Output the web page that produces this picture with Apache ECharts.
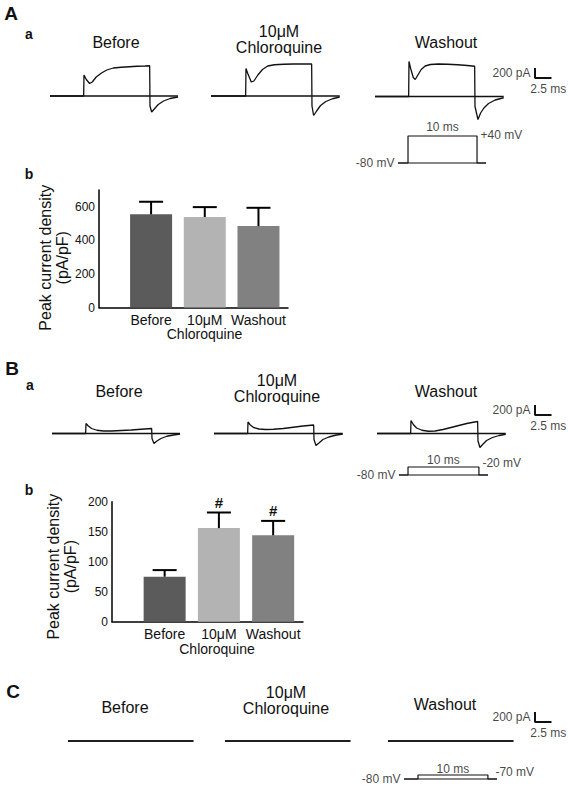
<!DOCTYPE html>
<html><head><meta charset="utf-8">
<script src="https://cdn.jsdelivr.net/npm/echarts@6/dist/echarts.min.js"></script>
<style>html,body{margin:0;padding:0;background:#fff}#c{width:568px;height:788px}</style>
</head><body><div id="c"></div>
<script>
// ---------- DATA ----------
const traceTitles = ['Before', '10μM', 'Chloroquine', 'Washout'];
const barLabels = ['Before', '10μM', 'Washout'];
const barAxisName = 'Chloroquine';
const panelLetters = ['A', 'B', 'C'];
const subLetters = ['a', 'b'];

// Current traces: [time (ms), current (pA)]
const traceA_before = [[0,0],[5.1,0],[5.15,420],[5.5,330],[6.0,250],[6.4,280],[7.0,380],[7.8,460],[8.6,520],[9.6,560],[10.8,575],[12.0,585],[13.2,595],[14.4,600],[15.1,605],[15.15,-200],[15.4,-320],[15.8,-260],[16.4,-170],[17.2,-100],[18.2,-50],[19.4,-20]];
const traceA_drug = [[0,0],[5.25,0],[5.3,550],[5.6,440],[6.1,280],[6.5,300],[7.1,420],[7.8,530],[8.6,600],[9.6,625],[11,635],[12.5,640],[14,640],[15.25,640],[15.3,-200],[15.55,-390],[16,-300],[16.6,-190],[17.4,-110],[18.4,-55],[19.5,-20]];
const traceA_wash = [[0,0],[5.1,0],[5.15,700],[5.4,560],[5.8,380],[6.1,340],[6.5,430],[7.0,540],[7.6,610],[8.4,640],[9.6,650],[11,645],[12.5,635],[14,620],[15.1,605],[15.15,-200],[15.6,-460],[16.0,-330],[16.5,-230],[17.2,-140],[18.2,-70],[19.5,-25]];
const traceB_before = [[0,0],[5.1,0],[5.15,200],[5.5,150],[6.0,100],[6.8,65],[7.8,50],[9,50],[10.5,60],[12,70],[13.5,85],[15.1,100],[15.15,-100],[15.45,-200],[15.9,-150],[16.5,-100],[17.4,-55],[18.4,-30],[19.4,-10]];
const traceB_drug = [[0,0],[5.1,0],[5.15,230],[5.5,170],[6.0,120],[6.8,90],[7.8,80],[9,85],[10.5,100],[12,125],[13.5,150],[15.1,170],[15.15,-120],[15.45,-240],[15.9,-190],[16.5,-120],[17.4,-70],[18.4,-35],[19.5,-10]];
const traceB_wash = [[0,0],[5.1,0],[5.15,260],[5.5,180],[6.0,110],[6.8,65],[7.8,45],[8.8,50],[10,80],[11.2,120],[12.4,160],[13.6,200],[14.6,225],[15.25,240],[15.3,-150],[15.6,-280],[16.0,-220],[16.6,-140],[17.5,-80],[18.5,-40],[19.5,-15]];
const traceC_before = [[0,0],[19,0]];
const traceC_drug = [[0,0],[19,0]];
const traceC_wash = [[0,0],[19,0]];
const zeroCurrent = 0; // pA, drawn across every trace

// Voltage protocols: [time (ms), voltage (mV)]
const protocolA = [[0,-80],[1.45,-80],[1.45,40],[11.45,40],[11.45,-80],[12.75,-80]];
const protocolB = [[0,-80],[1.27,-80],[1.27,-20],[11.27,-20],[11.27,-80],[12.55,-80]];
const protocolC = [[0,-80],[2.0,-80],[2.0,-70],[12.0,-70],[12.0,-80],[13.3,-80]];
const holdingPotential = -80; // mV
const protocolA_labels = ['-80 mV', '+40 mV', '10 ms'];
const protocolB_labels = ['-80 mV', '-20 mV', '10 ms'];
const protocolC_labels = ['-80 mV', '-70 mV', '10 ms'];

// Scale bar: 200 pA / 2.5 ms
const scaleBar = [[0,200],[0,0],[2.5,0]];
const scaleBarLabels = ['200 pA', '2.5 ms'];

// Peak current density (pA/pF): mean and SEM
const densityA_mean = [555, 539, 485];
const densityA_sem = [75, 59, 109];
const densityA_ticks = [0, 200, 400, 600];
const densityB_mean = [75, 156, 144];
const densityB_sem = [11, 26, 24];
const densityB_ticks = [0, 50, 100, 150, 200];
const significanceB = ['', '#', '#'];
const densityName = 'Peak current density\n(pA/pF)';

// ---------- STYLE ----------
const FONT = '"Liberation Sans", Arial, Helvetica, sans-serif';
const INK = '#111';
const barColors = ['#5b5b5b', '#b3b3b3', '#818181'];

const grids = [], xAxes = [], yAxes = [], series = [], graphics = [];
function addGrid(g, x, y) {
  grids.push(g);
  const i = grids.length - 1;
  xAxes.push(Object.assign({gridIndex: i}, x));
  yAxes.push(Object.assign({gridIndex: i}, y));
  return i;
}
const hid = (min, max) => ({type: 'value', min, max, show: false});

// ---- current traces ----
const PXMS = 6.6, PXPA = 0.05;
function addTrace(data, left, baseline, tmax) {
  const i = addGrid({left, top: baseline - 800 * PXPA, width: tmax * PXMS, height: 1400 * PXPA},
    hid(0, tmax), hid(-600, 800));
  const tEnd = data[data.length - 1][0];
  series.push({type: 'line', xAxisIndex: i, yAxisIndex: i, data: [[0, zeroCurrent], [tEnd, zeroCurrent]],
    symbol: 'none', clip: false, lineStyle: {color: INK, width: 1.3}, silent: true});
  series.push({type: 'line', xAxisIndex: i, yAxisIndex: i, data, symbol: 'none', clip: false,
    lineStyle: {color: INK, width: 1.3}, silent: true});
}
addTrace(traceA_before, 50, 96, 19.5);
addTrace(traceA_drug, 211, 96, 19.5);
addTrace(traceA_wash, 375, 96.5, 19.5);
addTrace(traceB_before, 52, 433.5, 19.5);
addTrace(traceB_drug, 214, 433.5, 19.5);
addTrace(traceB_wash, 377, 433.5, 19.5);
addTrace(traceC_before, 68, 741, 19);
addTrace(traceC_drug, 225, 741, 19);
addTrace(traceC_wash, 388, 741, 19);

// ---- scale bars ----
function addScaleBar(top) {
  const i = addGrid({left: 535, top, width: 2.5 * PXMS, height: 200 * PXPA}, hid(0, 2.5), hid(0, 200));
  series.push({type: 'line', xAxisIndex: i, yAxisIndex: i, data: scaleBar, symbol: 'none', clip: false,
    lineStyle: {color: INK, width: 2}, silent: true});
  const lab = {color: INK, fontFamily: FONT, fontSize: 12};
  series.push({type: 'scatter', xAxisIndex: i, yAxisIndex: i, symbolSize: 1, itemStyle: {color: 'rgba(0,0,0,0)'},
    silent: true, clip: false,
    data: [
      {value: [0, 100], label: Object.assign({show: true, position: 'left', distance: 4, formatter: scaleBarLabels[0]}, lab)},
      {value: [1.25, 0], label: Object.assign({show: true, position: 'bottom', distance: 4, offset: [5, 0], formatter: scaleBarLabels[1]}, lab)}
    ]});
}
addScaleBar(68);
addScaleBar(405);
addScaleBar(712);

// ---- voltage protocols ----
function addProtocol(data, labels, g, ylo, yhi, opts) {
  const xmax = data[data.length - 1][0];
  const i = addGrid(g, hid(0, xmax), hid(ylo, yhi));
  series.push({type: 'line', xAxisIndex: i, yAxisIndex: i, data: [[0, holdingPotential], [xmax, holdingPotential]],
    symbol: 'none', clip: false, lineStyle: {color: INK, width: 1.2}, silent: true});
  series.push({type: 'line', xAxisIndex: i, yAxisIndex: i, data, symbol: 'none', clip: false,
    lineStyle: {color: INK, width: 1.2}, silent: true});
  const lab = {color: INK, fontFamily: FONT, fontSize: 12};
  const mid = (data[2][0] + data[3][0]) / 2;
  series.push({type: 'scatter', xAxisIndex: i, yAxisIndex: i, symbolSize: 1, itemStyle: {color: 'rgba(0,0,0,0)'},
    silent: true, clip: false,
    data: [
      {value: data[0], label: Object.assign({show: true, position: 'left', distance: 3, formatter: labels[0]}, lab)},
      {value: data[3], label: Object.assign({show: true, position: 'right', distance: opts.rd, offset: [0, opts.ro], formatter: labels[1]}, lab)},
      {value: [mid, data[3][1]], label: Object.assign({show: true, position: 'top', distance: opts.td, formatter: labels[2]}, lab)}
    ]});
}
addProtocol(protocolA, protocolA_labels, {left: 398, top: 136, width: 88, height: 27}, -80, 40, {rd: 3, ro: -1, td: 3});
addProtocol(protocolB, protocolB_labels, {left: 399, top: 467, width: 89, height: 8}, -80, -20, {rd: 3, ro: -4, td: 1});
addProtocol(protocolC, protocolC_labels, {left: 404, top: 775, width: 93, height: 4}, -80, -70, {rd: 7, ro: -3, td: 0});

// ---- bar charts ----
function addBars(means, sems, ticks, ymax, g, nameGap, namePad, xNameGap, xNamePad, sig) {
  const i = addGrid(g,
    {type: 'value', min: -0.97, max: 2.55,
      axisLine: {show: true, onZero: false, lineStyle: {color: '#000', width: 1.5}},
      axisTick: {show: false}, splitLine: {show: false},
      axisLabel: {customValues: [0, 1, 2], formatter: v => barLabels[Math.round(v)], color: INK,
        fontFamily: FONT, fontSize: 14, margin: 5, hideOverlap: false,
        showMinLabel: true, showMaxLabel: true},
      name: barAxisName, nameLocation: 'middle', nameGap: xNameGap,
      nameTextStyle: {color: INK, fontFamily: FONT, fontSize: 14, padding: xNamePad}},
    {type: 'value', min: 0, max: ymax,
      axisLine: {show: true, onZero: false, lineStyle: {color: '#000', width: 1.5}},
      axisTick: {show: false}, splitLine: {show: false},
      axisLabel: {customValues: ticks, color: INK, fontFamily: FONT, fontSize: 12, margin: 4},
      name: densityName, nameLocation: 'middle', nameGap, nameRotate: 90,
      nameTextStyle: {color: INK, fontFamily: FONT, fontSize: 16, lineHeight: 17, padding: namePad}});
  series.push({type: 'bar', xAxisIndex: i, yAxisIndex: i, barWidth: 42, silent: true,
    data: means.map((m, k) => ({value: [k, m], itemStyle: {color: barColors[k]}}))});
  series.push({type: 'custom', xAxisIndex: i, yAxisIndex: i, z: 5, silent: true,
    data: means.map((m, k) => [k, m, m + sems[k], k]),
    renderItem: (params, api) => {
      const p0 = api.coord([api.value(0), api.value(1)]);
      const p1 = api.coord([api.value(0), api.value(2)]);
      const k = api.value(3);
      const st = {stroke: '#000', lineWidth: 2};
      const ch = [
        {type: 'line', shape: {x1: p0[0], y1: p0[1], x2: p1[0], y2: p1[1]}, style: st},
        {type: 'line', shape: {x1: p1[0] - 12, y1: p1[1], x2: p1[0] + 12, y2: p1[1]}, style: st}
      ];
      if (sig && sig[k]) ch.push({type: 'text', x: p1[0], y: p1[1] - 10,
        style: {text: sig[k], align: 'center', verticalAlign: 'middle', fill: INK,
          font: 'bold 15px ' + FONT}});
      return {type: 'group', children: ch};
    }});
}
addBars(densityA_mean, densityA_sem, densityA_ticks, 700, {left: 99, top: 190, width: 189, height: 117.5},
  25, [0, 18, 0, 0], 19, [0, 0, 0, 22], null);
addBars(densityB_mean, densityB_sem, densityB_ticks, 200, {left: 112, top: 501.7, width: 191, height: 120},
  33, [0, 10, 0, 0], 20, [0, 0, 0, 19], significanceB);

// ---- texts ----
function txt(text, x, y, size, weight) {
  graphics.push({type: 'text', x, y, silent: true,
    style: {text, align: 'center', verticalAlign: 'middle', fill: INK,
      font: (weight || 'normal') + ' ' + size + 'px ' + FONT}});
}
txt(panelLetters[0], 11, 13.5, 19, 'bold');
txt(panelLetters[1], 12, 368, 19, 'bold');
txt(panelLetters[2], 13, 691, 19, 'bold');
txt(subLetters[0], 29, 34, 14, 'bold');
txt(subLetters[1], 29, 174, 14, 'bold');
txt(subLetters[0], 30, 385, 14, 'bold');
txt(subLetters[1], 29, 490, 14, 'bold');
function titles(xs, yBefore, yTop, yBottom, yWash) {
  txt(traceTitles[0], xs[0], yBefore, 16);
  txt(traceTitles[1], xs[1], yTop, 16);
  txt(traceTitles[2], xs[1], yBottom, 16);
  txt(traceTitles[3], xs[2], yWash, 16);
}
titles([116, 279, 446], 42, 31.5, 47.5, 42);
titles([119, 277, 446], 391, 380.5, 396.5, 391);
titles([125, 286, 445], 707, 692, 708, 704);

const chart = echarts.init(document.getElementById('c'), null, {renderer: 'svg', width: 568, height: 788});
chart.setOption({
  animation: false,
  backgroundColor: '#fff',
  textStyle: {fontFamily: FONT},
  grid: grids, xAxis: xAxes, yAxis: yAxes, series, graphic: graphics
});
</script></body></html>
